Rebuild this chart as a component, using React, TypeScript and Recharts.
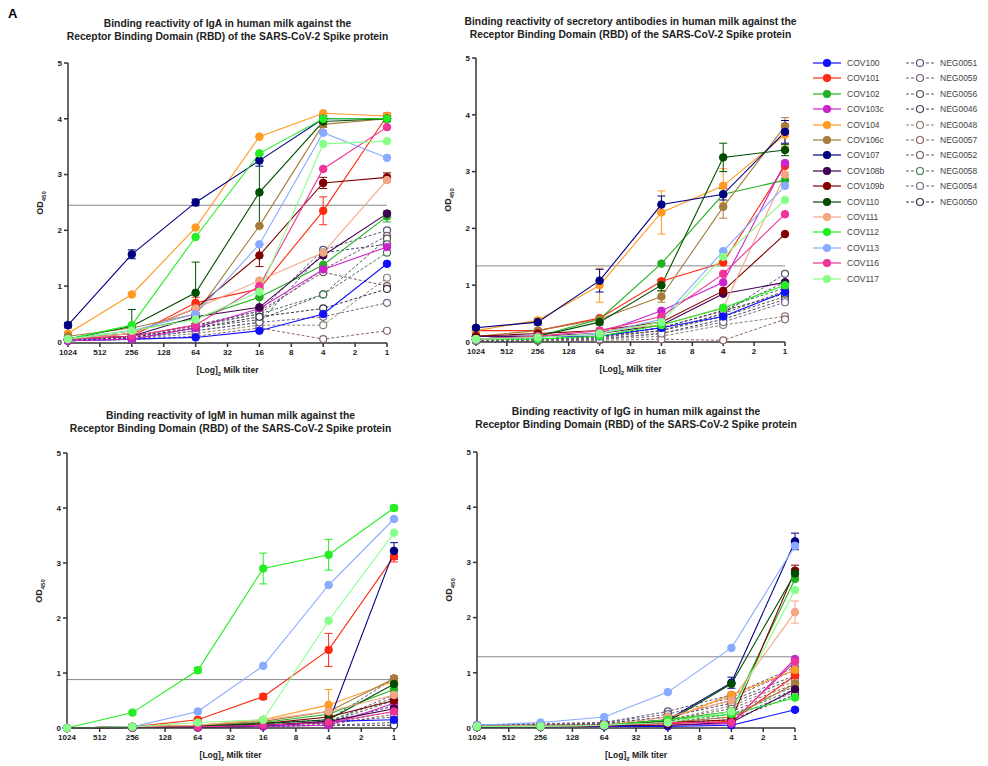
import React from 'react'
import { LineChart, Line, XAxis, YAxis, ReferenceLine, ErrorBar } from 'recharts'

// x axis: reversed log2 titer, one tick per dilution step
const TITER_TICKS = ['1024', '512', '256', '128', '64', '32', '16', '8', '4', '2', '1']
const SAMPLE_TITERS = ['1024', '256', '64', '16', '4', '1']
const Y_TICKS = [0, 1, 2, 3, 4, 5]

const COV_NAMES = ['COV100', 'COV101', 'COV102', 'COV103c', 'COV104', 'COV106c', 'COV107', 'COV108b', 'COV109b', 'COV110', 'COV111', 'COV112', 'COV113', 'COV116', 'COV117']
const COV_COLORS = ['#1010ff', '#ff2a10', '#22b022', '#cc22cc', '#ff9a22', '#a67c3c', '#000080', '#400050', '#800000', '#004d00', '#f4a582', '#22ee22', '#88aaff', '#ee3399', '#88ff88']
const NEG_NAMES = ['NEG0051', 'NEG0059', 'NEG0056', 'NEG0046', 'NEG0048', 'NEG0057', 'NEG0052', 'NEG0058', 'NEG0054', 'NEG0050']
const NEG_COLORS = ['#555577', '#775577', '#555555', '#444466', '#8a8070', '#886666', '#775566', '#447755', '#776688', '#333344']

// IgA
const IGA_COV = [
  [0.02, 0.05, 0.08, 0.2, 0.5, 1.4],
  [0.05, 0.1, 0.7, 0.95, 2.35, 4.05],
  [0.05, 0.2, 0.42, 0.8, 1.38, 2.25],
  [0.02, 0.05, 0.25, 0.6, 1.3, 1.7],
  [0.15, 0.85, 2.05, 3.68, 4.1, 4.05],
  [0.1, 0.25, 0.5, 2.08, 3.9, 4.0],
  [0.3, 1.57, 2.5, 3.25, 4.0, 4.0],
  [0.05, 0.1, 0.45, 0.62, 1.55, 2.3],
  [0.05, 0.15, 0.6, 1.55, 2.85, 2.95],
  [0.05, 0.28, 0.88, 2.68, 3.95, 4.0],
  [0.05, 0.15, 0.6, 1.1, 1.6, 2.9],
  [0.05, 0.3, 1.88, 3.38, 4.0, 4.0],
  [0.05, 0.2, 0.5, 1.75, 3.75, 3.3],
  [0.05, 0.1, 0.3, 1.0, 3.1, 3.85],
  [0.05, 0.2, 0.4, 0.9, 3.55, 3.6],
]
const IGA_NEG = [
  [0.05, 0.1, 0.3, 0.55, 1.65, 2.0],
  [0.05, 0.1, 0.28, 0.5, 1.3, 1.9],
  [0.04, 0.08, 0.25, 0.4, 0.85, 1.85],
  [0.03, 0.06, 0.2, 0.35, 1.6, 1.75],
  [0.02, 0.05, 0.15, 0.3, 0.3, 1.15],
  [0.02, 0.04, 0.1, 0.25, 0.05, 0.2],
  [0.05, 0.1, 0.3, 0.55, 1.25, 1.0],
  [0.05, 0.1, 0.3, 0.5, 0.85, 1.6],
  [0.02, 0.05, 0.2, 0.35, 0.45, 0.7],
  [0.03, 0.08, 0.25, 0.45, 0.6, 0.95],
]
const IGA_ERR: Record<string, number[]> = {
  COV107: [0.05, 0.08, 0.06, 0.1, 0.05, 0.05],
  COV110: [0.02, 0.3, 0.55, 0.6, 0.1, 0.05],
  COV101: [0.02, 0.05, 0.1, 0.15, 0.25, 0.05],
  COV109b: [0.02, 0.05, 0.1, 0.2, 0.1, 0.08],
  COV102: [0.02, 0.05, 0.1, 0.2, 0.15, 0.1],
}

// secretory antibodies
const SEC_COV = [
  [0.1, 0.1, 0.1, 0.25, 0.45, 0.88],
  [0.2, 0.2, 0.42, 1.07, 1.4, 3.1],
  [0.05, 0.1, 0.4, 1.38, 2.6, 2.85],
  [0.05, 0.1, 0.15, 0.55, 1.05, 3.15],
  [0.2, 0.38, 1.0, 2.28, 2.75, 3.65],
  [0.1, 0.2, 0.4, 0.8, 2.38, 3.8],
  [0.25, 0.35, 1.08, 2.42, 2.6, 3.7],
  [0.1, 0.1, 0.15, 0.3, 0.85, 1.05],
  [0.1, 0.15, 0.2, 0.35, 0.9, 1.9],
  [0.05, 0.1, 0.35, 1.0, 3.25, 3.38],
  [0.05, 0.1, 0.2, 0.3, 0.6, 2.95],
  [0.05, 0.05, 0.1, 0.3, 0.6, 1.0],
  [0.05, 0.08, 0.15, 0.4, 1.6, 2.75],
  [0.05, 0.1, 0.2, 0.45, 1.2, 2.25],
  [0.05, 0.08, 0.15, 0.35, 1.5, 2.5],
]
const SEC_NEG = [
  [0.05, 0.05, 0.1, 0.2, 0.5, 1.2],
  [0.05, 0.05, 0.1, 0.25, 0.55, 1.05],
  [0.02, 0.04, 0.08, 0.2, 0.45, 0.8],
  [0.02, 0.03, 0.06, 0.15, 0.4, 0.75],
  [0.02, 0.02, 0.05, 0.1, 0.3, 0.45],
  [0.02, 0.02, 0.03, 0.05, 0.03, 0.4],
  [0.03, 0.04, 0.08, 0.2, 0.5, 0.9],
  [0.03, 0.05, 0.1, 0.3, 0.6, 0.95],
  [0.02, 0.03, 0.05, 0.15, 0.35, 0.7],
  [0.05, 0.05, 0.1, 0.25, 0.55, 0.85],
]
const SEC_ERR: Record<string, number[]> = {
  COV104: [0.03, 0.05, 0.3, 0.38, 0.3, 0.2],
  COV107: [0.03, 0.05, 0.2, 0.15, 0.1, 0.2],
  COV110: [0.02, 0.03, 0.05, 0.1, 0.25, 0.1],
  COV106c: [0.02, 0.03, 0.05, 0.1, 0.2, 0.15],
}

// IgM
const IGM_COV = [
  [0, 0.01, 0.01, 0.03, 0.12, 0.15],
  [0, 0.02, 0.15, 0.57, 1.42, 3.12],
  [0, 0.02, 0.05, 0.1, 0.25, 0.7],
  [0, 0.01, 0.01, 0.03, 0.05, 0.45],
  [0, 0.02, 0.05, 0.15, 0.42, 0.85],
  [0, 0.02, 0.05, 0.12, 0.3, 0.9],
  [0, 0.02, 0.02, 0.05, 0.1, 3.22],
  [0, 0.01, 0.02, 0.05, 0.12, 0.35],
  [0, 0.02, 0.03, 0.08, 0.2, 0.5],
  [0, 0.02, 0.03, 0.08, 0.15, 0.8],
  [0, 0.02, 0.05, 0.15, 0.3, 0.6],
  [0, 0.28, 1.05, 2.9, 3.15, 4.0],
  [0, 0.02, 0.3, 1.13, 2.6, 3.8],
  [0, 0.01, 0.02, 0.05, 0.1, 0.3],
  [0, 0.02, 0.1, 0.15, 1.95, 3.55],
]
const IGM_NEG = [
  [0, 0.02, 0.03, 0.08, 0.15, 0.9],
  [0, 0.01, 0.02, 0.05, 0.12, 0.6],
  [0, 0.01, 0.02, 0.05, 0.1, 0.5],
  [0, 0.01, 0.02, 0.04, 0.1, 0.4],
  [0, 0.01, 0.02, 0.04, 0.08, 0.3],
  [0, 0.01, 0.01, 0.03, 0.06, 0.25],
  [0, 0.01, 0.02, 0.05, 0.1, 0.2],
  [0, 0.01, 0.02, 0.04, 0.12, 0.55],
  [0, 0.01, 0.01, 0.03, 0.05, 0.1],
  [0, 0.01, 0.02, 0.03, 0.05, 0.05],
]
const IGM_ERR: Record<string, number[]> = {
  COV112: [0, 0.02, 0.05, 0.28, 0.28, 0.05],
  COV101: [0, 0.01, 0.03, 0.05, 0.3, 0.1],
  COV107: [0, 0, 0, 0.01, 0.02, 0.15],
  COV104: [0, 0, 0.01, 0.03, 0.28, 0.1],
}

// IgG
const IGG_COV = [
  [0.02, 0.02, 0.03, 0.03, 0.05, 0.33],
  [0.03, 0.03, 0.05, 0.08, 0.12, 0.95],
  [0.03, 0.03, 0.05, 0.15, 0.3, 2.7],
  [0.02, 0.02, 0.04, 0.05, 0.08, 1.25],
  [0.03, 0.03, 0.05, 0.15, 0.6, 1.05],
  [0.02, 0.03, 0.05, 0.1, 0.2, 0.8],
  [0.05, 0.05, 0.05, 0.15, 0.82, 3.38],
  [0.02, 0.03, 0.04, 0.05, 0.1, 0.7],
  [0.03, 0.05, 0.05, 0.1, 0.15, 2.85],
  [0.03, 0.03, 0.05, 0.12, 0.8, 2.8],
  [0.03, 0.05, 0.05, 0.2, 0.5, 2.1],
  [0.02, 0.03, 0.05, 0.15, 0.25, 0.55],
  [0.05, 0.1, 0.2, 0.65, 1.45, 3.3],
  [0.03, 0.03, 0.05, 0.1, 0.1, 1.2],
  [0.03, 0.03, 0.05, 0.1, 0.3, 2.5],
]
const IGG_NEG = [
  [0.05, 0.08, 0.1, 0.3, 0.6, 1.1],
  [0.04, 0.06, 0.1, 0.25, 0.55, 1.05],
  [0.04, 0.06, 0.08, 0.2, 0.5, 0.95],
  [0.03, 0.05, 0.08, 0.2, 0.45, 0.9],
  [0.03, 0.05, 0.07, 0.15, 0.4, 0.85],
  [0.03, 0.04, 0.06, 0.15, 0.35, 0.8],
  [0.03, 0.04, 0.06, 0.12, 0.3, 0.75],
  [0.03, 0.04, 0.05, 0.1, 0.25, 0.7],
  [0.02, 0.03, 0.05, 0.1, 0.2, 0.65],
  [0.02, 0.03, 0.05, 0.08, 0.15, 0.6],
]
const IGG_ERR: Record<string, number[]> = {
  COV107: [0.01, 0.01, 0.01, 0.03, 0.1, 0.15],
  COV109b: [0.01, 0.01, 0.01, 0.02, 0.03, 0.1],
  COV111: [0.01, 0.01, 0.01, 0.03, 0.1, 0.2],
}

const FONT = '"Liberation Sans", Arial, sans-serif'
const SUBTITLE = 'Receptor Binding Domain (RBD) of the SARS-CoV-2 Spike protein'

function buildRows(cov: number[][], neg: number[][], err: Record<string, number[]>) {
  return SAMPLE_TITERS.map((t, j) => {
    const row: Record<string, number> = { x: TITER_TICKS.indexOf(t) }
    COV_NAMES.forEach((n, i) => (row[n] = cov[i][j]))
    NEG_NAMES.forEach((n, i) => (row[n] = neg[i][j]))
    Object.keys(err).forEach(n => (row[n + '_err'] = err[n][j]))
    return row
  })
}

interface PanelProps {
  title: string
  cov: number[][]
  neg: number[][]
  err: Record<string, number[]>
  cutoff: number
  plotL: number
  plotR: number
  plotT: number
  plotB: number
  titleY: number
}

function Panel({ title, cov, neg, err, cutoff, plotL, plotR, plotT, plotB, titleY }: PanelProps) {
  const data = buildRows(cov, neg, err)
  const yAxisW = 40
  const xAxisH = 26
  const padTop = 10
  const padRight = 10
  const plotW = plotR - plotL
  const plotH = plotB - plotT
  const tickStyle = { fontSize: 8, fontWeight: 700, fill: '#222', fontFamily: FONT }
  const mid = plotL + plotW / 2

  return (
    <>
      <div style={{ position: 'absolute', left: mid - 220, top: titleY, width: 440, textAlign: 'center', fontFamily: FONT, fontSize: 10.3, fontWeight: 700, lineHeight: '13px', color: '#222' }}>
        <div>{title}</div>
        <div>{SUBTITLE}</div>
      </div>
      <div style={{ position: 'absolute', left: plotL - 48, top: plotT + plotH / 2 - 8, width: 40, height: 16, transform: 'rotate(-90deg)', textAlign: 'center', fontFamily: FONT, fontSize: 9, fontWeight: 700, color: '#222', lineHeight: '16px' }}>
        OD<sub style={{ fontSize: 6 }}>450</sub>
      </div>
      <div style={{ position: 'absolute', left: mid - 80, top: plotB + 22, width: 160, textAlign: 'center', fontFamily: FONT, fontSize: 8.5, fontWeight: 700, color: '#222' }}>
        [Log]<sub style={{ fontSize: 6 }}>2</sub> Milk titer
      </div>
      <div style={{ position: 'absolute', left: plotL - yAxisW, top: plotT - padTop }}>
        <LineChart
          width={plotW + yAxisW + padRight}
          height={plotH + padTop + xAxisH}
          data={data}
          margin={{ top: padTop, right: padRight, left: 0, bottom: 0 }}
        >
          <XAxis
            type="number"
            dataKey="x"
            domain={[0, 10]}
            ticks={TITER_TICKS.map((_, i) => i)}
            tickFormatter={(v: number) => TITER_TICKS[v]}
            interval={0}
            height={xAxisH}
            stroke="#333"
            strokeWidth={1.5}
            tickSize={4}
            tick={tickStyle}
          />
          <YAxis
            type="number"
            domain={[0, 5]}
            ticks={Y_TICKS}
            width={yAxisW}
            stroke="#333"
            strokeWidth={1.5}
            tickSize={4}
            tick={tickStyle}
          />
          <ReferenceLine y={cutoff} stroke="#888" strokeWidth={1} />
          {NEG_NAMES.map((n, i) => (
            <Line
              key={n}
              dataKey={n}
              stroke={NEG_COLORS[i]}
              strokeWidth={1}
              strokeDasharray="3 2"
              dot={{ r: 3.5, fill: '#fff', stroke: NEG_COLORS[i], strokeWidth: 1.2, strokeDasharray: '' }}
              isAnimationActive={false}
            />
          ))}
          {COV_NAMES.map((n, i) => (
            <Line
              key={n}
              dataKey={n}
              stroke={COV_COLORS[i]}
              strokeWidth={1.1}
              dot={{ r: 3.8, fill: COV_COLORS[i], stroke: COV_COLORS[i], strokeWidth: 1 }}
              isAnimationActive={false}
            >
              {err[n] && <ErrorBar dataKey={n + '_err'} width={4} stroke={COV_COLORS[i]} strokeWidth={1} direction="y" />}
            </Line>
          ))}
        </LineChart>
      </div>
    </>
  )
}

function LegendItem({ name, color, open, y, x }: { name: string; color: string; open: boolean; y: number; x: number }) {
  return (
    <div style={{ position: 'absolute', left: x, top: y - 6, height: 12, display: 'flex', alignItems: 'center', fontFamily: FONT, fontSize: 8.5, color: '#444' }}>
      <svg width={30} height={12}>
        <line x1={1} y1={6} x2={29} y2={6} stroke={color} strokeWidth={1.2} strokeDasharray={open ? '3 2' : undefined} />
        <circle cx={15} cy={6} r={3.5} fill={open ? '#fff' : color} stroke={color} strokeWidth={1.2} />
      </svg>
      <span style={{ marginLeft: 5 }}>{name}</span>
    </div>
  )
}

export default function App() {
  return (
    <div style={{ position: 'absolute', left: 0, top: 0, width: 988, height: 766, background: '#fff', overflow: 'hidden' }}>
      <div style={{ position: 'absolute', left: 8, top: 6, fontFamily: FONT, fontSize: 13, fontWeight: 700 }}>A</div>
      <Panel title="Binding reactivity of IgA in human milk against the" cov={IGA_COV} neg={IGA_NEG} err={IGA_ERR} cutoff={2.45} plotL={68} plotR={387} plotT={63} plotB={343} titleY={17} />
      <Panel title="Binding reactivity of secretory antibodies in human milk against the" cov={SEC_COV} neg={SEC_NEG} err={SEC_ERR} cutoff={1.34} plotL={476} plotR={785} plotT={58} plotB={342} titleY={15} />
      <Panel title="Binding reactivity of IgM in human milk against the" cov={IGM_COV} neg={IGM_NEG} err={IGM_ERR} cutoff={0.88} plotL={67} plotR={394} plotT={453} plotB={728} titleY={409} />
      <Panel title="Binding reactivity of IgG in human milk against the" cov={IGG_COV} neg={IGG_NEG} err={IGG_ERR} cutoff={1.29} plotL={477} plotR={795} plotT={452} plotB={728} titleY={405} />
      {COV_NAMES.map((n, i) => (
        <LegendItem key={n} name={n} color={COV_COLORS[i]} open={false} x={812} y={63 + i * 15.4} />
      ))}
      {NEG_NAMES.map((n, i) => (
        <LegendItem key={n} name={n} color={NEG_COLORS[i]} open={true} x={905} y={63 + i * 15.4} />
      ))}
    </div>
  )
}
